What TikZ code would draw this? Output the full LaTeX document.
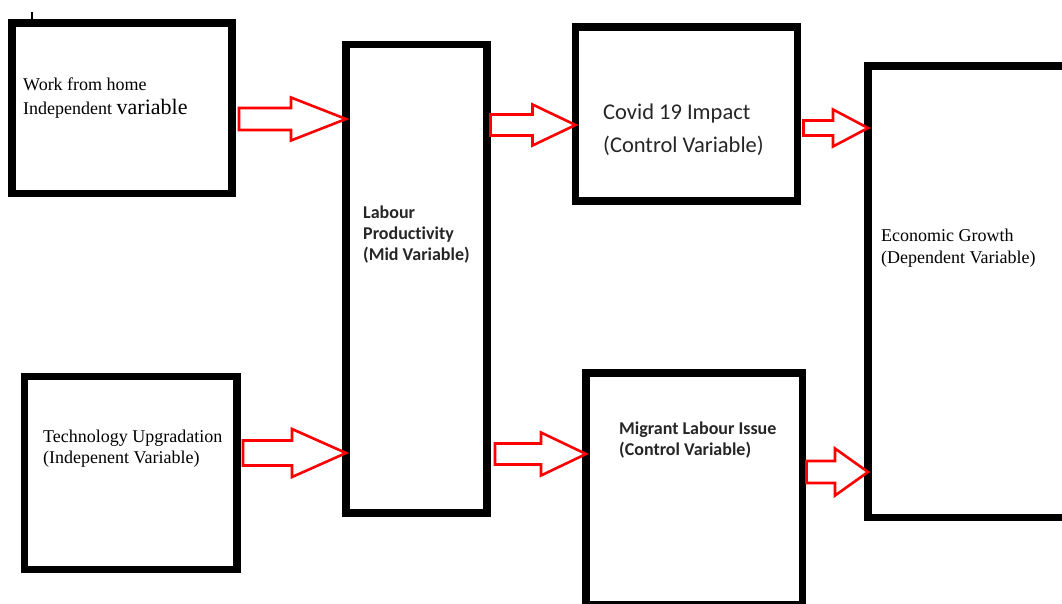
\documentclass[tikz,border=0pt]{standalone}
\usepackage{fontspec}
\setmainfont{Liberation Serif}
\newfontfamily\calibri[Ligatures=NoCommon]{Carlito}
\usetikzlibrary{calc}
\tikzset{
  box/.style={draw=black, line width=7.5pt, rectangle, inner sep=0pt, outer sep=0pt, fill=white},
  blockarr/.style={draw=red, line width=2.6pt, line join=miter, fill=white},
  seriftext/.style={anchor=base west, align=left, inner sep=0pt, font=\fontsize{18}{22}\selectfont},
  caltext/.style={anchor=base west, align=left, inner sep=0pt, font=\calibri\fontsize{22.5}{33}\selectfont, text=black!85},
  calbold/.style={anchor=base west, align=left, inner sep=0pt, font=\calibri\bfseries\fontsize{18}{21}\selectfont, text=black!85},
}
\newcommand\blockarrow[5]{%
  \draw[blockarr] let \p1=(#1), \p2=(#2) in
    (\x1,\y2+#3pt) -- (\x2-#5pt,\y2+#3pt) -- (\x2-#5pt,\y2+#4pt) -- (\x2,\y2)
    -- (\x2-#5pt,\y2-#4pt) -- (\x2-#5pt,\y2-#3pt) -- (\x1,\y2-#3pt) -- cycle;}
\begin{document}
\begin{tikzpicture}[x=1pt,y=-1pt]
\useasboundingbox (0,0) rectangle (1062,604);
\clip (0,0) rectangle (1062,604);
\fill[white] (0,0) rectangle (1062,604);
% boxes
\node[box, minimum width=220pt, minimum height=170.5pt] (wfh) at (122,108.25) {};
\node[box, minimum width=141pt, minimum height=468.5pt] (lp) at (416.5,278.75) {};
\node[box, minimum width=222pt, minimum height=174pt] (cov) at (686.5,114) {};
\node[box, minimum width=212pt, minimum height=451.5pt] (eg) at (974,291.75) {};
\node[box, minimum width=212.5pt, minimum height=193pt] (tu) at (130.75,473) {};
\node[box, minimum width=216.5pt, minimum height=231.5pt] (mli) at (694.25,488.75) {};
% small tick
\draw[line width=2.2pt] (32,12.5) -- (32,20);
% arrows
\blockarrow{$(wfh.east)+(7,0)$}{lp.west |- 0,119}{11}{21.5}{55}
\blockarrow{$(lp.east)+(3.5,0)$}{cov.west |- 0,125}{10.5}{20.5}{43}
\blockarrow{$(cov.east)+(6,0)$}{eg.west |- 0,128}{7.5}{18.5}{35}
\blockarrow{$(tu.east)+(6,0)$}{lp.west |- 0,453}{12.5}{24}{54}
\blockarrow{$(lp.east)+(8,0)$}{mli.west |- 0,454}{10.5}{21.5}{45}
\blockarrow{$(mli.east)+(4,0)$}{eg.west |- 0,472}{11}{23.5}{33}
% texts (anchored at the baseline of their last line)
\node[seriftext, font=\fontsize{18}{24}\selectfont] (t1) at (23,115) {Work from home\\Independent {\fontsize{22}{24}\selectfont variable}};
\node[calbold] (t2) at (363,260) {Labour\\Productivity\\(Mid Variable)};
\node[caltext] (t3) at (603,153) {Covid 19 Impact\\(Control Variable)};
\node[seriftext] (t4) at (881,263) {Economic Growth\\(Dependent Variable)};
\node[seriftext, font=\fontsize{18}{21}\selectfont] (t5) at (43,463) {Technology Upgradation\\(Indepenent Variable)};
\node[calbold] (t6) at (619,455) {Migrant Labour Issue\\(Control Variable)};
\end{tikzpicture}
\end{document}
